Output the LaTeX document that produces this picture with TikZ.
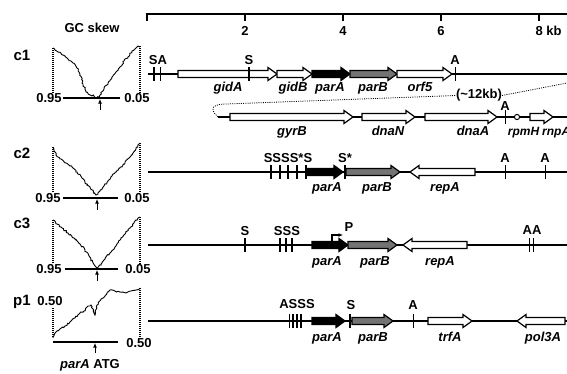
\documentclass[tikz,border=0pt]{standalone}
\usepackage{fontspec}
\setmainfont{Liberation Sans}
\usetikzlibrary{arrows.meta,decorations.pathmorphing}

% gene arrow: #1 tail x, #2 tip x, #3 row y, #4 style
\newcommand{\drawgene}[4]{%
  \pgfmathsetmacro{\gHb}{#2>#1 ? #2-9 : #2+9}%
  \draw[#4] (#1,#3-3.5) -- (\gHb,#3-3.5) -- (\gHb,#3-6.5) -- (#2,#3)
    -- (\gHb,#3+6.5) -- (\gHb,#3+3.5) -- (#1,#3+3.5) -- cycle;
}

\begin{document}
\begin{tikzpicture}[
        x=1pt, y=-1pt,
        >={Latex[length=4.5pt,width=4pt]},
        every node/.style={font=\bfseries\fontsize{13}{14}\selectfont,
            inner sep=0pt, text height=9.3pt, text depth=2.7pt},
        gname/.style={font=\bfseries\itshape\fontsize{13}{14}\selectfont},
        rowlabel/.style={font=\bfseries\fontsize{15}{16}\selectfont},
        row/.style={line width=1.5pt},
        whitegene/.style={draw, line width=1.2pt, fill=white},
        blackgene/.style={draw, line width=1.2pt, fill=black},
        graygene/.style={draw, line width=1.2pt, fill=black!55},
        sbar/.style={line width=2.4pt},
        atick/.style={line width=1pt},
        guide/.style={line width=1.2pt, dash pattern=on 1pt off 1pt},
        gap/.style={line width=0.8pt, dash pattern=on 1pt off 1.2pt},
        axis/.style={line width=1.8pt},
        skew/.style={line width=0.9pt, decorate,
            decoration={random steps, segment length=1.5pt, amplitude=0.8pt}}
    ]
    \useasboundingbox (0,0) rectangle (567,373);
    \clip (0,0) rectangle (567,373);
    \pgfmathsetseed{7}

    % 1. Escala en kb
    \coordinate (s0) at (147,14);
    \coordinate (s8) at (567,14);
    \draw[axis] (s0) -- (s8);
    \foreach \k in {0,2,4,6,8}
        \draw[axis] (147+\k*49,13) -- (147+\k*49,21);
    \foreach \k in {2,4,6}
        \node (t\k) at (147+\k*49,32) {\k};
    \node[anchor=west] (t8) at (535.4,32) {8 kb};

    % 2. Paneles GC skew
    \node (gctitle) at (92,29) {GC skew};

    % c1
    \node[rowlabel] (c1) at (22,57) {c1};
    \draw[guide] (53,48) -- (53,93);
    \draw[guide] (140,46) -- (140,93);
    \draw[axis] (63,98) -- (120,98);
    \node (c1lo) at (49,99) {0.95};
    \node (c1hi) at (137,99) {0.05};
    \draw[->, line width=1pt] (100,110) -- (100,99);
    \draw[skew] plot coordinates {(53,48) (58,52) (63,55) (68,59) (73,63)
        (77,68) (80,74) (83,84) (86,92) (90,95) (94,96) (97,98) (100,95)
        (104,89) (108,83) (112,77) (116,72) (120,67) (124,61) (128,57)
        (132,51) (136,48) (138,46) (140,47)};

    % c2
    \node[rowlabel] (c2) at (22,155) {c2};
    \draw[guide] (53,147) -- (53,193);
    \draw[guide] (140,143) -- (140,193);
    \draw[axis] (63,198) -- (118,198);
    \node (c2lo) at (48,199) {0.95};
    \node (c2hi) at (137,199) {0.05};
    \draw[->, line width=1pt] (97,210) -- (97,199);
    \draw[skew] plot coordinates {(53,147) (56,155) (60,159) (66,163)
        (72,167) (77,172) (82,178) (87,185) (92,190) (96,195) (100,191)
        (104,186) (108,181) (112,176) (116,172) (120,168) (125,163)
        (129,158) (133,153) (136,149) (139,144) (140,143)};

    % c3
    \node[rowlabel] (c3) at (22,225) {c3};
    \draw[guide] (53,220) -- (53,264);
    \draw[guide] (140,217) -- (140,264);
    \draw[axis] (65,269) -- (118,269);
    \node (c3lo) at (49,270) {0.95};
    \node (c3hi) at (138,270) {0.05};
    \draw[->, line width=1pt] (97,281) -- (97,270);
    \draw[skew] plot coordinates {(53,220) (57,224) (62,228) (68,233)
        (74,238) (80,244) (85,250) (89,256) (93,263) (97,268) (101,264)
        (105,259) (110,253) (115,247) (120,240) (125,234) (130,228)
        (134,223) (138,218) (140,217)};

    % p1
    \node[rowlabel] (p1) at (22,302) {p1};
    \node (p1top) at (50,302) {0.50};
    \draw[guide] (53,308) -- (53,338);
    \draw[guide] (140,288) -- (140,337);
    \draw[axis] (53,342) -- (118,342);
    \node (p1hi) at (139,344) {0.50};
    \draw[->, line width=1pt] (95,353) -- (95,343);
    \node (atg) at (90,365) {\textit{parA} ATG};
    \draw[skew] plot coordinates {(53,338) (56,332) (60,329) (65,326)
        (70,322) (75,318) (80,313) (84,311) (88,306) (91,305) (94,313)
        (95,315) (97,305) (101,299) (105,296) (110,290) (115,291)
        (120,292) (126,293) (131,291) (136,290) (140,288)};

    % 3. Fila c1
    \coordinate (r1L) at (148,74);
    \coordinate (r1R) at (567,74);
    \draw[row] (r1L) -- (r1R);
    \drawgene{178}{277}{74}{whitegene}
    \drawgene{277}{312}{74}{whitegene}
    \drawgene{312}{350}{74}{blackgene}
    \drawgene{350}{397}{74}{graygene}
    \drawgene{397}{452}{74}{whitegene}
    \draw[sbar] (154,67) -- (154,81);
    \draw[atick] (160,67) -- (160,81);
    \draw[sbar] (249,67) -- (249,81);
    \draw[atick] (455,67) -- (455,81);
    \node (c1sa) at (158,61) {SA};
    \node (c1s) at (249,61) {S};
    \node (c1a) at (455,61) {A};
    \node[gname] (gidA) at (228,88) {gidA};
    \node[gname] (gidB) at (293,88) {gidB};
    \node[gname] (parA1) at (330,88) {parA};
    \node[gname] (parB1) at (373,88) {parB};
    \node[gname] (orf5) at (420,88) {orf5};

    % continuación (~12 kb)
    \coordinate (r1bL) at (218,117);
    \coordinate (r1bR) at (567,117);
    \node (gap) at (479,95.5) {(\textasciitilde12kb)};
    \draw[gap] (r1bL) .. controls (208,108) and (214,104) .. (226,104)
        -- (gap.west);
    \draw[gap] (gap.east) -- (567,83);
    \draw[row] (r1bL) -- (r1bR);
    \drawgene{230}{353}{117}{whitegene}
    \drawgene{362}{415}{117}{whitegene}
    \drawgene{425}{497}{117}{whitegene}
    \drawgene{530}{553}{117}{whitegene}
    \draw[atick] (505,110) -- (505,124);
    \draw[line width=1pt, fill=white] (517,117) circle (2.6);
    \node (c1ba) at (505,107.5) {A};
    \node[gname] (gyrB) at (292,132) {gyrB};
    \node[gname] (dnaN) at (388,132) {dnaN};
    \node[gname] (dnaA) at (473,132) {dnaA};
    \node[gname, font=\bfseries\itshape\fontsize{12}{13}\selectfont]
        (rpmH) at (523.5,132) {rpmH};
    \node[gname, font=\bfseries\itshape\fontsize{12}{13}\selectfont,
        anchor=west] (rnpA) at (542,132) {rnpA};

    % 4. Fila c2
    \coordinate (r2L) at (148,172);
    \coordinate (r2R) at (567,172);
    \draw[row] (r2L) -- (r2R);
    \drawgene{306}{343}{172}{blackgene}
    \drawgene{346}{400}{172}{graygene}
    \drawgene{475}{410}{172}{whitegene}
    \foreach \x in {271,280,288,297,306}
        \draw[sbar] (\x,165) -- (\x,179);
    \draw[sbar] (345,165) -- (345,179);
    \draw[atick] (505,165) -- (505,179);
    \draw[atick] (545,165) -- (545,179);
    \node (c2s) at (288,159) {SSSS*S};
    \node (c2st) at (345,159) {S*};
    \node (c2a1) at (505,159) {A};
    \node (c2a2) at (545,159) {A};
    \node[gname] (parA2) at (327,188) {parA};
    \node[gname] (parB2) at (377,188) {parB};
    \node[gname] (repA2) at (445,188) {repA};

    % 5. Fila c3
    \coordinate (r3L) at (148,245);
    \coordinate (r3R) at (567,245);
    \draw[row] (r3L) -- (r3R);
    \drawgene{312}{348}{245}{blackgene}
    \drawgene{348}{397}{245}{graygene}
    \drawgene{467}{403}{245}{whitegene}
    \foreach \x in {245,280,286,292}
        \draw[sbar] (\x,238) -- (\x,252);
    \draw[atick] (529,238) -- (529,252);
    \draw[atick] (533,238) -- (533,252);
    \coordinate (prom) at (332,245);
    \draw[->, line width=1.2pt] (prom) -- (332,235) -- (343,235);
    \node (c3s) at (245,232) {S};
    \node (c3sss) at (287,232) {SSS};
    \node (c3p) at (349,228) {P};
    \node (c3aa) at (532,231) {AA};
    \node[gname] (parA3) at (327,262) {parA};
    \node[gname] (parB3) at (375,262) {parB};
    \node[gname] (repA3) at (440,262) {repA};

    % 6. Fila p1
    \coordinate (r4L) at (148,321);
    \coordinate (r4R) at (567,321);
    \draw[row] (r4L) -- (r4R);
    \drawgene{312}{345}{321}{blackgene}
    \drawgene{352}{393}{321}{graygene}
    \drawgene{428}{472}{321}{whitegene}
    \drawgene{565}{517}{321}{whitegene}
    \draw[atick] (289,314) -- (289,328);
    \foreach \x in {293,297,301,350}
        \draw[sbar] (\x,314) -- (\x,328);
    \draw[atick] (413,314) -- (413,328);
    \node (p1asss) at (297,305) {ASSS};
    \node (p1s) at (351,306) {S};
    \node (p1a) at (413,306) {A};
    \node[gname] (parA4) at (327,338) {parA};
    \node[gname] (parB4) at (373,338) {parB};
    \node[gname] (trfA) at (450,338) {trfA};
    \node[gname] (pol3A) at (543,338) {pol3A};

\end{tikzpicture}
\end{document}
